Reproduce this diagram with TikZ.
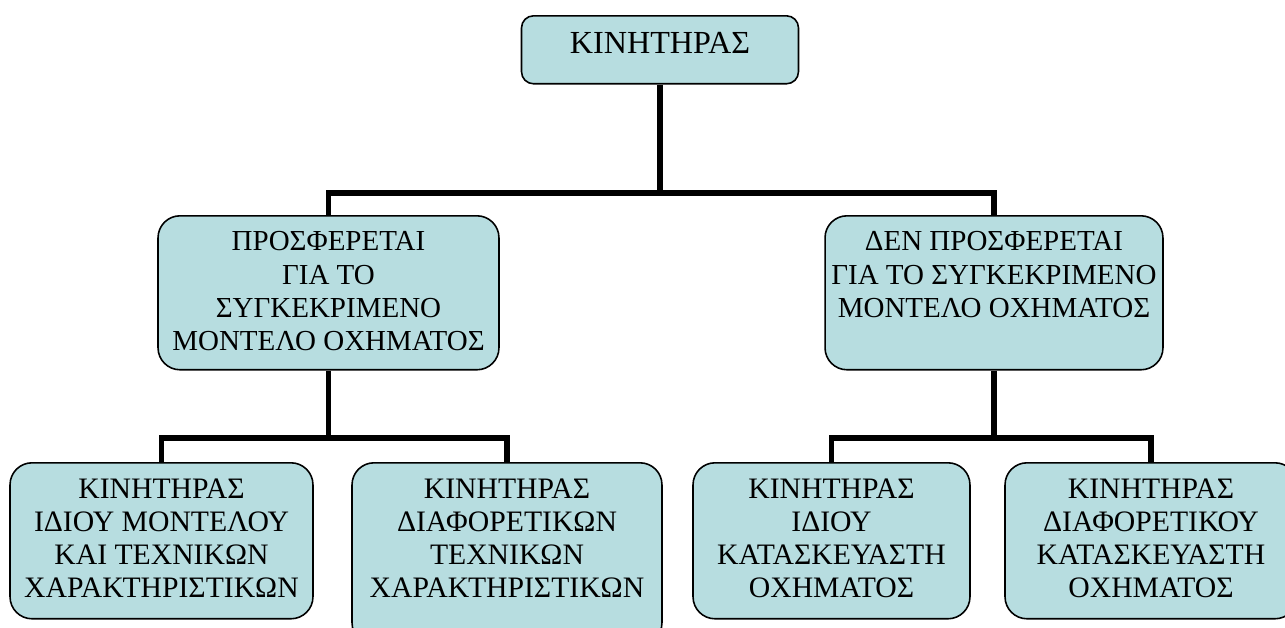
\documentclass[tikz,border=0pt]{standalone}
\usepackage{fontspec}
\setmainfont{Liberation Serif}
\definecolor{unitblue}{HTML}{B7DDE0}
\newcommand{\unitlabel}[3]{\parbox[c][#2][t]{#1}{\centering #3}}

\begin{document}
\begin{tikzpicture}[x=0.02cm, y=-0.02cm,
  unit/.style={draw, line width=0.9pt, fill=unitblue, rounded corners=0.44cm,
    anchor=north, inner xsep=0.1cm, inner ysep=0.32cm,
    font=\fontsize{16.9}{18.8}\selectfont},
  wire/.style={line width=3pt}]
\useasboundingbox (0,0) rectangle (1285,627);
\clip (0,0) rectangle (1285,627);

\node[unit, rounded corners=0.24cm, font=\fontsize{18.3}{20}\selectfont] (engine) at (660,15) {\unitlabel{5.34cm}{0.72cm}{ΚΙΝΗΤΗΡΑΣ}};

\node[unit, font=\fontsize{16.5}{18.8}\selectfont] (offered) at (328.5,215) {\unitlabel{6.62cm}{2.44cm}{ΠΡΟΣΦΕΡΕΤΑΙ\\ΓΙΑ ΤΟ\\ΣΥΓΚΕΚΡΙΜΕΝΟ\\ΜΟΝΤΕΛΟ ΟΧΗΜΑΤΟΣ}};
\node[unit, font=\fontsize{16.5}{18.8}\selectfont] (notoffered) at (994,215) {\unitlabel{6.56cm}{2.44cm}{ΔΕΝ ΠΡΟΣΦΕΡΕΤΑΙ\\ΓΙΑ ΤΟ ΣΥΓΚΕΚΡΙΜΕΝΟ\\ΜΟΝΤΕΛΟ ΟΧΗΜΑΤΟΣ}};

\node[unit] (samemodel) at (161.5,462) {\unitlabel{5.86cm}{2.48cm}{ΚΙΝΗΤΗΡΑΣ\\ΙΔΙΟΥ ΜΟΝΤΕΛΟΥ\\ΚΑΙ ΤΕΧΝΙΚΩΝ\\ΧΑΡΑΚΤΗΡΙΣΤΙΚΩΝ}};
\node[unit] (diffspecs) at (507,462) {\unitlabel{6.0cm}{3.0cm}{ΚΙΝΗΤΗΡΑΣ\\ΔΙΑΦΟΡΕΤΙΚΩΝ\\ΤΕΧΝΙΚΩΝ\\ΧΑΡΑΚΤΗΡΙΣΤΙΚΩΝ}};
\node[unit] (samemaker) at (831.5,462) {\unitlabel{5.34cm}{2.48cm}{ΚΙΝΗΤΗΡΑΣ\\ΙΔΙΟΥ\\ΚΑΤΑΣΚΕΥΑΣΤΗ\\ΟΧΗΜΑΤΟΣ}};
\node[unit] (diffmaker) at (1151,462) {\unitlabel{5.64cm}{2.48cm}{ΚΙΝΗΤΗΡΑΣ\\ΔΙΑΦΟΡΕΤΙΚΟΥ\\ΚΑΤΑΣΚΕΥΑΣΤΗ\\ΟΧΗΜΑΤΟΣ}};

% connectors
\coordinate (split) at (engine.south |- 0,193);
\coordinate (splitL) at (offered.south |- 0,438);
\coordinate (splitR) at (notoffered.south |- 0,438);
\draw[wire] (engine.south) -- (split);
\draw[wire] (offered.north) |- (split) -| (notoffered.north);
\draw[wire] (offered.south) -- (splitL);
\draw[wire] (samemodel.north) |- (splitL) -| (diffspecs.north);
\draw[wire] (notoffered.south) -- (splitR);
\draw[wire] (samemaker.north) |- (splitR) -| (diffmaker.north);
\end{tikzpicture}
\end{document}
